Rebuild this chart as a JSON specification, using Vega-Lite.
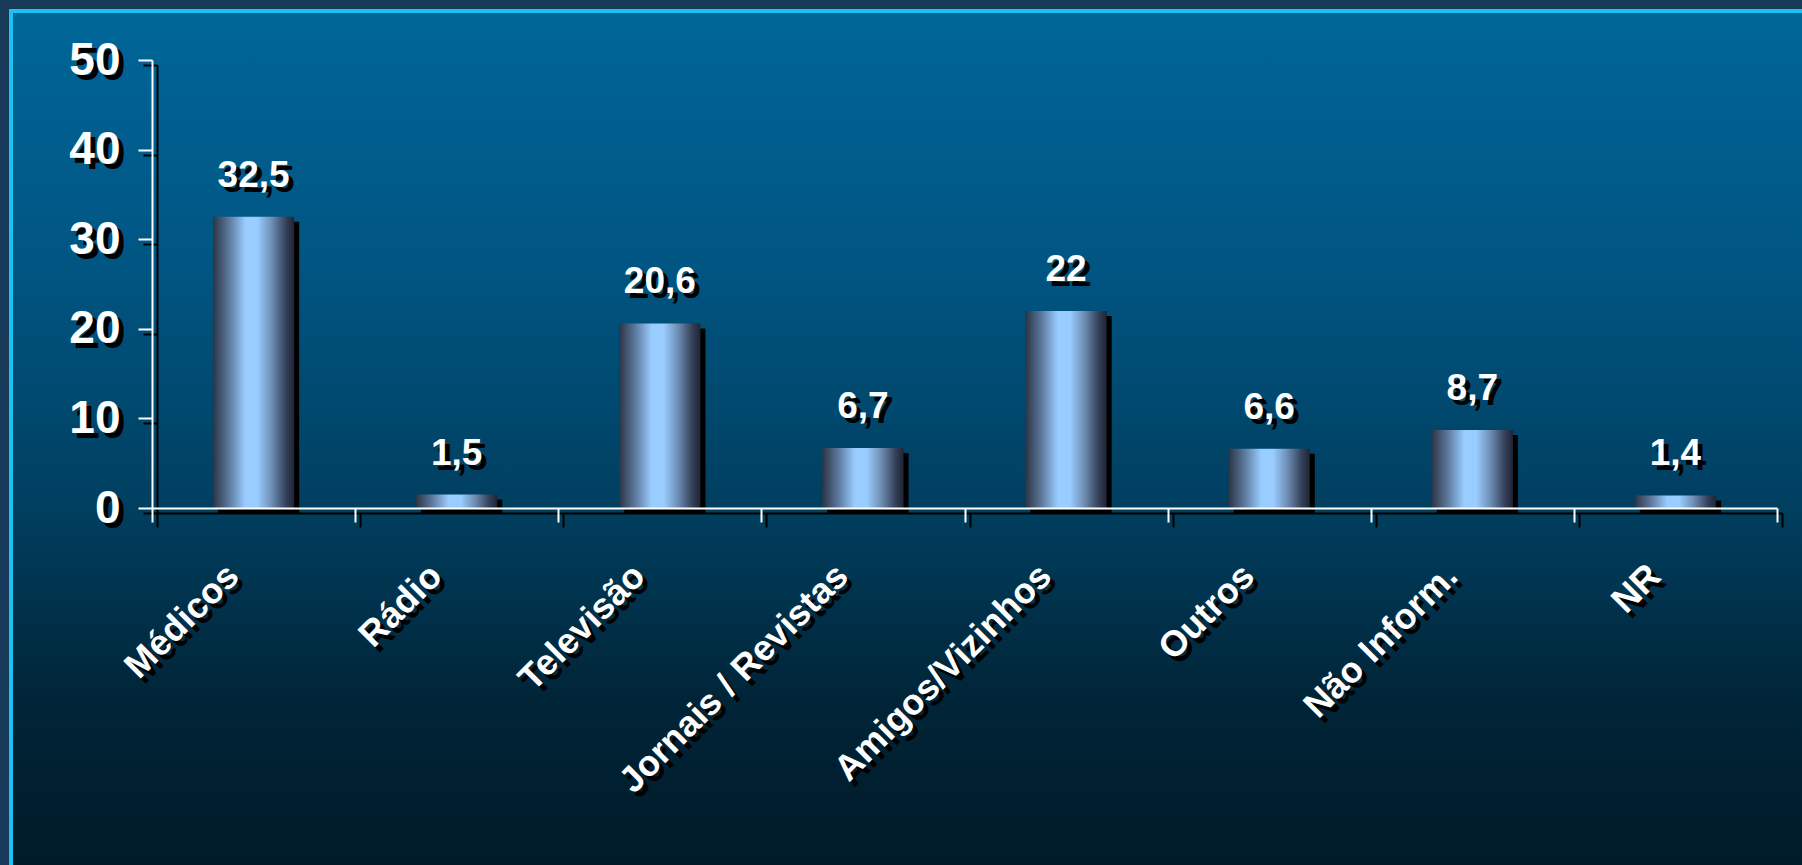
{
  "$schema": "https://vega.github.io/schema/vega-lite/v6.json",
  "width": 1793,
  "height": 857,
  "autosize": {"type": "none"},
  "padding": {"left": 11, "top": 11, "right": -2, "bottom": -3},
  "background": "#173a5a",
  "config": {
    "font": "Liberation Sans",
    "view": {
      "fill": {"gradient": "linear", "x1": 0, "y1": 0, "x2": 0, "y2": 1,
        "stops": [
          {"offset": 0, "color": "#006699"},
          {"offset": 0.3, "color": "#005582"},
          {"offset": 0.58, "color": "#003f60"},
          {"offset": 0.8, "color": "#002538"},
          {"offset": 1, "color": "#001a28"}
        ]},
      "stroke": "#1bc3f0",
      "strokeWidth": 4
    },
    "locale": {
      "number": {"decimal": ",", "thousands": ".", "grouping": [3], "currency": ["R$", ""]}
    }
  },
  "data": {
    "values": [
      {"fonte": "Médicos", "pct": 32.5},
      {"fonte": "Rádio", "pct": 1.5},
      {"fonte": "Televisão", "pct": 20.6},
      {"fonte": "Jornais / Revistas", "pct": 6.7},
      {"fonte": "Amigos/Vizinhos", "pct": 22},
      {"fonte": "Outros", "pct": 6.6},
      {"fonte": "Não Inform.", "pct": 8.7},
      {"fonte": "NR", "pct": 1.4}
    ]
  },
  "layer": [
    {
      "mark": {"type": "bar", "width": {"band": 0.4}, "fill": "black", "xOffset": 5, "yOffset": 5},
      "encoding": {
        "x": {"field": "fonte", "type": "nominal", "sort": null,
          "scale": {"range": [141, 1766], "paddingInner": 0, "paddingOuter": 0},
          "axis": {"orient": "bottom", "offset": -360, "translate": 5.5, "title": null, "grid": false,
            "domainColor": "black", "domainWidth": 2, "tickColor": "black", "tickWidth": 2, "tickSize": 14,
            "tickBand": "extent", "labelColor": "black", "labelAngle": -45, "labelAlign": "right",
            "labelBaseline": "middle", "labelPadding": 48, "labelOffset": -21, "labelFontSize": 36,
            "labelFont": "Liberation Sans", "labelFontWeight": "bold", "labelLimit": 600,
            "labelOverlap": false, "labelBound": false, "zindex": 0}},
        "y": {"field": "pct", "type": "quantitative",
          "scale": {"domain": [0, 50], "range": [497, 49], "nice": false},
          "axis": {"orient": "left", "offset": -141, "translate": 5.5, "title": null, "grid": false,
            "values": [0, 10, 20, 30, 40, 50], "domainColor": "black", "domainWidth": 2,
            "tickColor": "black", "tickWidth": 2, "tickSize": 14, "labelColor": "black",
            "labelFontSize": 46, "labelFont": "Liberation Sans", "labelFontWeight": "bold",
            "labelPadding": 18, "labelFlush": false, "labelOverlap": false, "labelBound": false, "zindex": 0}}
      }
    },
    {
      "mark": {"type": "bar", "width": {"band": 0.4},
        "fill": {"gradient": "linear", "x1": 0, "y1": 0, "x2": 1, "y2": 0,
          "stops": [
            {"offset": 0, "color": "#2b3445"},
            {"offset": 0.2, "color": "#5d7a9e"},
            {"offset": 0.4, "color": "#99ccff"},
            {"offset": 0.55, "color": "#99ccff"},
            {"offset": 0.72, "color": "#6f8fb5"},
            {"offset": 0.9, "color": "#34405a"},
            {"offset": 1, "color": "#1e2433"}
          ]}},
      "encoding": {
        "x": {"field": "fonte", "type": "nominal", "sort": null,
          "scale": {"range": [141, 1766], "paddingInner": 0, "paddingOuter": 0},
          "axis": {"orient": "bottom", "offset": -360, "title": null, "grid": false,
            "domainColor": "white", "domainWidth": 2, "tickColor": "white", "tickWidth": 2, "tickSize": 14,
            "tickBand": "extent", "labelColor": "white", "labelAngle": -45, "labelAlign": "right",
            "labelBaseline": "middle", "labelPadding": 48, "labelOffset": -21, "labelFontSize": 36,
            "labelFont": "Liberation Sans", "labelFontWeight": "bold", "labelLimit": 600,
            "labelOverlap": false, "labelBound": false, "zindex": 1}},
        "y": {"field": "pct", "type": "quantitative",
          "scale": {"domain": [0, 50], "range": [497, 49], "nice": false},
          "axis": {"orient": "left", "offset": -141, "title": null, "grid": false,
            "values": [0, 10, 20, 30, 40, 50], "domainColor": "white", "domainWidth": 2,
            "tickColor": "white", "tickWidth": 2, "tickSize": 14, "labelColor": "white",
            "labelFontSize": 46, "labelFont": "Liberation Sans", "labelFontWeight": "bold",
            "labelPadding": 18, "labelFlush": false, "labelOverlap": false, "labelBound": false, "zindex": 1}}
      }
    },
    {
      "mark": {"type": "text", "baseline": "alphabetic", "align": "center", "dx": 5, "dy": -25,
        "fontSize": 37, "fontWeight": "bold", "font": "Liberation Sans", "color": "black"},
      "encoding": {
        "x": {"field": "fonte", "type": "nominal", "sort": null, "axis": null},
        "y": {"field": "pct", "type": "quantitative", "axis": null},
        "text": {"field": "pct", "type": "quantitative", "format": ".1~f"}
      }
    },
    {
      "mark": {"type": "text", "baseline": "alphabetic", "align": "center", "dy": -30,
        "fontSize": 37, "fontWeight": "bold", "font": "Liberation Sans", "color": "white"},
      "encoding": {
        "x": {"field": "fonte", "type": "nominal", "sort": null, "axis": null},
        "y": {"field": "pct", "type": "quantitative", "axis": null},
        "text": {"field": "pct", "type": "quantitative", "format": ".1~f"}
      }
    }
  ],
  "resolve": {"axis": {"x": "independent", "y": "independent"}}
}
